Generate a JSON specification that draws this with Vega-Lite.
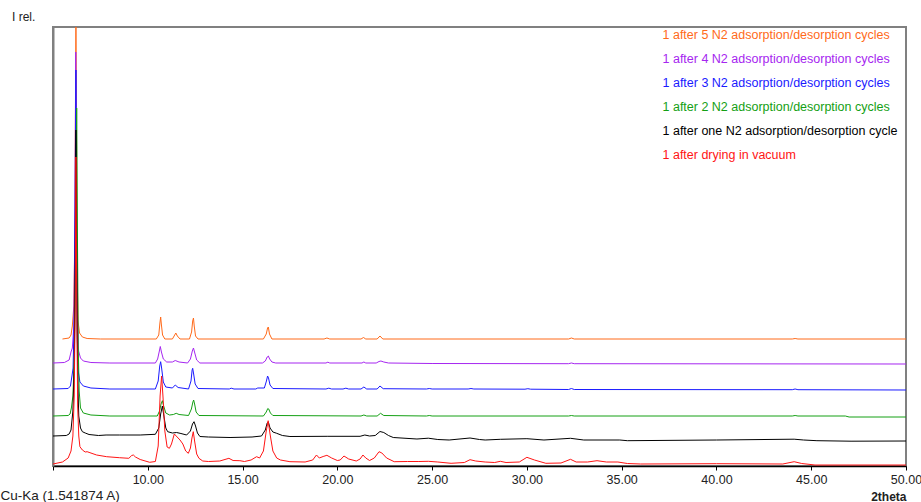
{
  "$schema": "https://vega.github.io/schema/vega-lite/v6.json",
  "autosize": {"type": "none"},
  "width": 853,
  "height": 439,
  "padding": {"left": 53, "top": 27, "right": 15, "bottom": 36},
  "background": "#ffffff",
  "config": {
    "font": "Liberation Sans",
    "view": {"stroke": "#808080", "strokeWidth": 2}
  },
  "title": {
    "text": "I rel.",
    "orient": "top",
    "anchor": "start",
    "frame": "group",
    "dx": -41,
    "offset": -6,
    "baseline": "alphabetic",
    "fontSize": 12,
    "fontWeight": "normal",
    "color": "#222222"
  },
  "datasets": {
    "samples": [
      {"sample": "c5", "name": "1 after 5 N2 adsorption/desorption cycles"},
      {"sample": "c4", "name": "1 after 4 N2 adsorption/desorption cycles"},
      {"sample": "c3", "name": "1 after 3 N2 adsorption/desorption cycles"},
      {"sample": "c2", "name": "1 after 2 N2 adsorption/desorption cycles"},
      {"sample": "c1", "name": "1 after one N2 adsorption/desorption cycle"},
      {"sample": "vac", "name": "1 after drying in vacuum"}
    ],
    "patterns": [
      {"sample":"c5","tt":5.5,"I":127},{"sample":"c5","tt":5.85,"I":128},{"sample":"c5","tt":5.95,"I":131},{"sample":"c5","tt":6.02,"I":140},{"sample":"c5","tt":6.1,"I":160},{"sample":"c5","tt":6.15,"I":230},{"sample":"c5","tt":6.19,"I":380},{"sample":"c5","tt":6.21,"I":439},{"sample":"c5","tt":6.23,"I":380},{"sample":"c5","tt":6.27,"I":200},{"sample":"c5","tt":6.32,"I":145},{"sample":"c5","tt":6.4,"I":133},{"sample":"c5","tt":6.55,"I":129},{"sample":"c5","tt":6.8,"I":127.5},{"sample":"c5","tt":7.5,"I":127},{"sample":"c5","tt":10.45,"I":127},{"sample":"c5","tt":10.58,"I":131},{"sample":"c5","tt":10.64,"I":143},{"sample":"c5","tt":10.68,"I":149},{"sample":"c5","tt":10.72,"I":141},{"sample":"c5","tt":10.78,"I":131},{"sample":"c5","tt":10.9,"I":127},{"sample":"c5","tt":11.3,"I":127},{"sample":"c5","tt":11.42,"I":131},{"sample":"c5","tt":11.48,"I":133},{"sample":"c5","tt":11.56,"I":130},{"sample":"c5","tt":11.7,"I":127},{"sample":"c5","tt":12.2,"I":127},{"sample":"c5","tt":12.31,"I":134},{"sample":"c5","tt":12.37,"I":145},{"sample":"c5","tt":12.41,"I":148},{"sample":"c5","tt":12.45,"I":140},{"sample":"c5","tt":12.52,"I":130},{"sample":"c5","tt":12.65,"I":127},{"sample":"c5","tt":16.1,"I":127},{"sample":"c5","tt":16.25,"I":132},{"sample":"c5","tt":16.32,"I":138},{"sample":"c5","tt":16.36,"I":139},{"sample":"c5","tt":16.42,"I":132},{"sample":"c5","tt":16.55,"I":127},{"sample":"c5","tt":19.3,"I":127},{"sample":"c5","tt":19.45,"I":128},{"sample":"c5","tt":19.6,"I":127},{"sample":"c5","tt":21.25,"I":127},{"sample":"c5","tt":21.38,"I":128.5},{"sample":"c5","tt":21.5,"I":127},{"sample":"c5","tt":22.1,"I":127},{"sample":"c5","tt":22.25,"I":130},{"sample":"c5","tt":22.4,"I":127},{"sample":"c5","tt":32.2,"I":127},{"sample":"c5","tt":32.35,"I":128},{"sample":"c5","tt":32.5,"I":127},{"sample":"c5","tt":44,"I":127},{"sample":"c5","tt":44.15,"I":127.5},{"sample":"c5","tt":44.3,"I":127},{"sample":"c5","tt":50,"I":127},

      {"sample":"c4","tt":5,"I":103},{"sample":"c4","tt":5.6,"I":103.5},{"sample":"c4","tt":5.85,"I":106},{"sample":"c4","tt":5.95,"I":114},{"sample":"c4","tt":6.02,"I":118},{"sample":"c4","tt":6.1,"I":140},{"sample":"c4","tt":6.16,"I":250},{"sample":"c4","tt":6.2,"I":414},{"sample":"c4","tt":6.24,"I":280},{"sample":"c4","tt":6.28,"I":160},{"sample":"c4","tt":6.35,"I":115},{"sample":"c4","tt":6.45,"I":108},{"sample":"c4","tt":6.6,"I":105},{"sample":"c4","tt":7,"I":103.5},{"sample":"c4","tt":8,"I":103},{"sample":"c4","tt":10.4,"I":103},{"sample":"c4","tt":10.52,"I":107},{"sample":"c4","tt":10.6,"I":114},{"sample":"c4","tt":10.66,"I":119.5},{"sample":"c4","tt":10.72,"I":114},{"sample":"c4","tt":10.82,"I":107},{"sample":"c4","tt":11,"I":104},{"sample":"c4","tt":11.3,"I":104},{"sample":"c4","tt":11.45,"I":105.5},{"sample":"c4","tt":11.65,"I":104},{"sample":"c4","tt":12.1,"I":103},{"sample":"c4","tt":12.25,"I":107},{"sample":"c4","tt":12.35,"I":115},{"sample":"c4","tt":12.41,"I":118},{"sample":"c4","tt":12.48,"I":113},{"sample":"c4","tt":12.58,"I":106},{"sample":"c4","tt":12.75,"I":103},{"sample":"c4","tt":16.05,"I":103},{"sample":"c4","tt":16.2,"I":105},{"sample":"c4","tt":16.3,"I":109},{"sample":"c4","tt":16.36,"I":110},{"sample":"c4","tt":16.43,"I":107},{"sample":"c4","tt":16.55,"I":104},{"sample":"c4","tt":16.75,"I":103},{"sample":"c4","tt":19.4,"I":103},{"sample":"c4","tt":19.5,"I":103.8},{"sample":"c4","tt":19.6,"I":103},{"sample":"c4","tt":21.3,"I":103},{"sample":"c4","tt":21.4,"I":104},{"sample":"c4","tt":21.5,"I":103},{"sample":"c4","tt":22.05,"I":103},{"sample":"c4","tt":22.2,"I":104.5},{"sample":"c4","tt":22.3,"I":105},{"sample":"c4","tt":22.45,"I":104},{"sample":"c4","tt":22.7,"I":103},{"sample":"c4","tt":25,"I":102.5},{"sample":"c4","tt":32.2,"I":102.3},{"sample":"c4","tt":32.35,"I":103},{"sample":"c4","tt":32.5,"I":102.3},{"sample":"c4","tt":50,"I":102},

      {"sample":"c3","tt":5,"I":77},{"sample":"c3","tt":5.8,"I":77.5},{"sample":"c3","tt":5.92,"I":80},{"sample":"c3","tt":6,"I":90},{"sample":"c3","tt":6.06,"I":98},{"sample":"c3","tt":6.13,"I":160},{"sample":"c3","tt":6.18,"I":300},{"sample":"c3","tt":6.21,"I":396},{"sample":"c3","tt":6.24,"I":260},{"sample":"c3","tt":6.28,"I":130},{"sample":"c3","tt":6.33,"I":95},{"sample":"c3","tt":6.42,"I":84},{"sample":"c3","tt":6.6,"I":80},{"sample":"c3","tt":7,"I":78},{"sample":"c3","tt":8,"I":77},{"sample":"c3","tt":10.4,"I":77},{"sample":"c3","tt":10.55,"I":85},{"sample":"c3","tt":10.63,"I":100},{"sample":"c3","tt":10.68,"I":104.3},{"sample":"c3","tt":10.73,"I":98},{"sample":"c3","tt":10.82,"I":84},{"sample":"c3","tt":10.95,"I":79},{"sample":"c3","tt":11.3,"I":78},{"sample":"c3","tt":11.45,"I":81},{"sample":"c3","tt":11.6,"I":78.5},{"sample":"c3","tt":12.15,"I":77},{"sample":"c3","tt":12.28,"I":85},{"sample":"c3","tt":12.34,"I":96},{"sample":"c3","tt":12.37,"I":97.7},{"sample":"c3","tt":12.42,"I":92},{"sample":"c3","tt":12.5,"I":82},{"sample":"c3","tt":12.65,"I":77.5},{"sample":"c3","tt":14.3,"I":77},{"sample":"c3","tt":14.4,"I":77.8},{"sample":"c3","tt":14.55,"I":77},{"sample":"c3","tt":15.7,"I":77},{"sample":"c3","tt":15.8,"I":78},{"sample":"c3","tt":16.15,"I":78},{"sample":"c3","tt":16.26,"I":85},{"sample":"c3","tt":16.32,"I":90},{"sample":"c3","tt":16.37,"I":88},{"sample":"c3","tt":16.45,"I":81},{"sample":"c3","tt":16.6,"I":77.5},{"sample":"c3","tt":19.4,"I":77},{"sample":"c3","tt":19.55,"I":77.8},{"sample":"c3","tt":19.7,"I":77},{"sample":"c3","tt":20.3,"I":77},{"sample":"c3","tt":20.45,"I":77.8},{"sample":"c3","tt":20.6,"I":77},{"sample":"c3","tt":21.25,"I":77},{"sample":"c3","tt":21.4,"I":79},{"sample":"c3","tt":21.55,"I":77},{"sample":"c3","tt":22.1,"I":77},{"sample":"c3","tt":22.25,"I":80},{"sample":"c3","tt":22.42,"I":77.3},{"sample":"c3","tt":24.7,"I":77},{"sample":"c3","tt":24.85,"I":77.5},{"sample":"c3","tt":25,"I":77},{"sample":"c3","tt":26.9,"I":77},{"sample":"c3","tt":27.05,"I":77.5},{"sample":"c3","tt":27.2,"I":77},{"sample":"c3","tt":29.9,"I":76.8},{"sample":"c3","tt":30.05,"I":77.3},{"sample":"c3","tt":30.2,"I":76.8},{"sample":"c3","tt":32.2,"I":76.5},{"sample":"c3","tt":32.35,"I":77.5},{"sample":"c3","tt":32.5,"I":76.5},{"sample":"c3","tt":44,"I":76.3},{"sample":"c3","tt":44.15,"I":77},{"sample":"c3","tt":44.3,"I":76.3},{"sample":"c3","tt":50,"I":76},

      {"sample":"c2","tt":5,"I":50},{"sample":"c2","tt":5.8,"I":50.5},{"sample":"c2","tt":5.9,"I":52},{"sample":"c2","tt":5.97,"I":58},{"sample":"c2","tt":6.05,"I":70},{"sample":"c2","tt":6.13,"I":110},{"sample":"c2","tt":6.2,"I":220},{"sample":"c2","tt":6.25,"I":358},{"sample":"c2","tt":6.29,"I":230},{"sample":"c2","tt":6.33,"I":120},{"sample":"c2","tt":6.38,"I":75},{"sample":"c2","tt":6.45,"I":58},{"sample":"c2","tt":6.6,"I":53},{"sample":"c2","tt":7,"I":51},{"sample":"c2","tt":8,"I":50},{"sample":"c2","tt":10.5,"I":50},{"sample":"c2","tt":10.62,"I":55},{"sample":"c2","tt":10.7,"I":62},{"sample":"c2","tt":10.77,"I":65.3},{"sample":"c2","tt":10.84,"I":60},{"sample":"c2","tt":10.95,"I":53},{"sample":"c2","tt":11.15,"I":51},{"sample":"c2","tt":11.35,"I":51.5},{"sample":"c2","tt":11.5,"I":52.7},{"sample":"c2","tt":11.65,"I":51.5},{"sample":"c2","tt":12.15,"I":50.5},{"sample":"c2","tt":12.3,"I":57},{"sample":"c2","tt":12.38,"I":64},{"sample":"c2","tt":12.42,"I":66},{"sample":"c2","tt":12.47,"I":62},{"sample":"c2","tt":12.55,"I":54},{"sample":"c2","tt":12.7,"I":50.5},{"sample":"c2","tt":16.1,"I":50},{"sample":"c2","tt":16.25,"I":54},{"sample":"c2","tt":16.33,"I":57.5},{"sample":"c2","tt":16.38,"I":57},{"sample":"c2","tt":16.47,"I":53},{"sample":"c2","tt":16.6,"I":50.5},{"sample":"c2","tt":21.25,"I":50},{"sample":"c2","tt":21.4,"I":51},{"sample":"c2","tt":21.55,"I":50},{"sample":"c2","tt":22.1,"I":50},{"sample":"c2","tt":22.28,"I":52.7},{"sample":"c2","tt":22.45,"I":50.5},{"sample":"c2","tt":24.7,"I":50},{"sample":"c2","tt":24.85,"I":50.5},{"sample":"c2","tt":25,"I":50},{"sample":"c2","tt":32.2,"I":50},{"sample":"c2","tt":32.35,"I":50.5},{"sample":"c2","tt":32.5,"I":50},{"sample":"c2","tt":44,"I":50},{"sample":"c2","tt":44.15,"I":50.5},{"sample":"c2","tt":44.3,"I":50},{"sample":"c2","tt":46.8,"I":50},{"sample":"c2","tt":47,"I":49},{"sample":"c2","tt":50,"I":49},

      {"sample":"c1","tt":5,"I":30},{"sample":"c1","tt":5.7,"I":30.5},{"sample":"c1","tt":5.85,"I":32},{"sample":"c1","tt":5.95,"I":36},{"sample":"c1","tt":6.05,"I":55},{"sample":"c1","tt":6.12,"I":100},{"sample":"c1","tt":6.17,"I":200},{"sample":"c1","tt":6.21,"I":336},{"sample":"c1","tt":6.25,"I":210},{"sample":"c1","tt":6.3,"I":90},{"sample":"c1","tt":6.36,"I":50},{"sample":"c1","tt":6.45,"I":38},{"sample":"c1","tt":6.55,"I":34.3},{"sample":"c1","tt":6.7,"I":33},{"sample":"c1","tt":6.9,"I":31.5},{"sample":"c1","tt":7.4,"I":30.5},{"sample":"c1","tt":7.8,"I":31},{"sample":"c1","tt":8.5,"I":31},{"sample":"c1","tt":9.6,"I":31},{"sample":"c1","tt":10.4,"I":31.7},{"sample":"c1","tt":10.58,"I":38},{"sample":"c1","tt":10.68,"I":52},{"sample":"c1","tt":10.77,"I":60},{"sample":"c1","tt":10.85,"I":50},{"sample":"c1","tt":10.95,"I":38},{"sample":"c1","tt":11.05,"I":34.3},{"sample":"c1","tt":11.3,"I":33},{"sample":"c1","tt":11.52,"I":33.5},{"sample":"c1","tt":11.75,"I":32.5},{"sample":"c1","tt":12.05,"I":31},{"sample":"c1","tt":12.25,"I":35},{"sample":"c1","tt":12.36,"I":42},{"sample":"c1","tt":12.44,"I":44.3},{"sample":"c1","tt":12.52,"I":40},{"sample":"c1","tt":12.62,"I":33},{"sample":"c1","tt":12.75,"I":29.5},{"sample":"c1","tt":13.2,"I":29},{"sample":"c1","tt":14.34,"I":28.5},{"sample":"c1","tt":15.5,"I":29},{"sample":"c1","tt":16,"I":30},{"sample":"c1","tt":16.2,"I":36},{"sample":"c1","tt":16.3,"I":43},{"sample":"c1","tt":16.36,"I":44},{"sample":"c1","tt":16.45,"I":38},{"sample":"c1","tt":16.6,"I":34},{"sample":"c1","tt":16.8,"I":32.7},{"sample":"c1","tt":17.1,"I":30.5},{"sample":"c1","tt":17.5,"I":29.5},{"sample":"c1","tt":19.5,"I":29.7},{"sample":"c1","tt":21.2,"I":29.7},{"sample":"c1","tt":21.45,"I":31},{"sample":"c1","tt":21.7,"I":30},{"sample":"c1","tt":22,"I":30.5},{"sample":"c1","tt":22.25,"I":34.5},{"sample":"c1","tt":22.45,"I":33.5},{"sample":"c1","tt":22.7,"I":30.5},{"sample":"c1","tt":22.95,"I":28.5},{"sample":"c1","tt":24.2,"I":27},{"sample":"c1","tt":24.8,"I":27.8},{"sample":"c1","tt":25.3,"I":26.5},{"sample":"c1","tt":25.9,"I":26},{"sample":"c1","tt":27,"I":28},{"sample":"c1","tt":27.5,"I":26.5},{"sample":"c1","tt":27.8,"I":26},{"sample":"c1","tt":28.6,"I":26.7},{"sample":"c1","tt":30,"I":27.3},{"sample":"c1","tt":30.9,"I":26},{"sample":"c1","tt":32.3,"I":27.7},{"sample":"c1","tt":33,"I":26},{"sample":"c1","tt":34.9,"I":26},{"sample":"c1","tt":35.3,"I":25.3},{"sample":"c1","tt":40,"I":26},{"sample":"c1","tt":44.1,"I":26.8},{"sample":"c1","tt":44.6,"I":26},{"sample":"c1","tt":45.3,"I":25.3},{"sample":"c1","tt":47.1,"I":24.8},{"sample":"c1","tt":50,"I":25},

      {"sample":"vac","tt":5,"I":2},{"sample":"vac","tt":5.5,"I":4},{"sample":"vac","tt":5.8,"I":8},{"sample":"vac","tt":5.95,"I":15},{"sample":"vac","tt":6.05,"I":30},{"sample":"vac","tt":6.12,"I":70},{"sample":"vac","tt":6.17,"I":160},{"sample":"vac","tt":6.21,"I":309},{"sample":"vac","tt":6.25,"I":170},{"sample":"vac","tt":6.3,"I":60},{"sample":"vac","tt":6.36,"I":30},{"sample":"vac","tt":6.42,"I":19.3},{"sample":"vac","tt":6.55,"I":16},{"sample":"vac","tt":6.7,"I":14},{"sample":"vac","tt":6.8,"I":14.3},{"sample":"vac","tt":6.95,"I":13.3},{"sample":"vac","tt":7.3,"I":11},{"sample":"vac","tt":7.83,"I":9.3},{"sample":"vac","tt":8.5,"I":8.3},{"sample":"vac","tt":9,"I":7.7},{"sample":"vac","tt":9.15,"I":10.5},{"sample":"vac","tt":9.24,"I":11},{"sample":"vac","tt":9.35,"I":9},{"sample":"vac","tt":9.6,"I":6.5},{"sample":"vac","tt":10.1,"I":3.7},{"sample":"vac","tt":10.4,"I":4.5},{"sample":"vac","tt":10.55,"I":20},{"sample":"vac","tt":10.65,"I":70},{"sample":"vac","tt":10.73,"I":90},{"sample":"vac","tt":10.8,"I":70},{"sample":"vac","tt":10.9,"I":35},{"sample":"vac","tt":11.02,"I":19},{"sample":"vac","tt":11.14,"I":17.7},{"sample":"vac","tt":11.25,"I":22},{"sample":"vac","tt":11.4,"I":32},{"sample":"vac","tt":11.5,"I":30},{"sample":"vac","tt":11.7,"I":26},{"sample":"vac","tt":11.85,"I":22},{"sample":"vac","tt":12,"I":15},{"sample":"vac","tt":12.14,"I":12.7},{"sample":"vac","tt":12.25,"I":18},{"sample":"vac","tt":12.33,"I":28},{"sample":"vac","tt":12.4,"I":34.3},{"sample":"vac","tt":12.47,"I":25},{"sample":"vac","tt":12.58,"I":12},{"sample":"vac","tt":12.7,"I":7.7},{"sample":"vac","tt":12.9,"I":5},{"sample":"vac","tt":13.2,"I":4.5},{"sample":"vac","tt":13.8,"I":5},{"sample":"vac","tt":14.28,"I":7.7},{"sample":"vac","tt":14.5,"I":5.5},{"sample":"vac","tt":14.86,"I":5.3},{"sample":"vac","tt":15.1,"I":4.5},{"sample":"vac","tt":15.45,"I":6},{"sample":"vac","tt":15.74,"I":9.3},{"sample":"vac","tt":15.9,"I":8},{"sample":"vac","tt":16.1,"I":15},{"sample":"vac","tt":16.25,"I":35},{"sample":"vac","tt":16.35,"I":45.3},{"sample":"vac","tt":16.45,"I":32},{"sample":"vac","tt":16.6,"I":15},{"sample":"vac","tt":16.8,"I":8},{"sample":"vac","tt":17,"I":6},{"sample":"vac","tt":17.5,"I":4.3},{"sample":"vac","tt":18.3,"I":4},{"sample":"vac","tt":18.7,"I":6},{"sample":"vac","tt":18.9,"I":11},{"sample":"vac","tt":19.05,"I":8},{"sample":"vac","tt":19.25,"I":9.5},{"sample":"vac","tt":19.45,"I":10.7},{"sample":"vac","tt":19.7,"I":8},{"sample":"vac","tt":20,"I":5.5},{"sample":"vac","tt":20.15,"I":6},{"sample":"vac","tt":20.35,"I":10},{"sample":"vac","tt":20.6,"I":7},{"sample":"vac","tt":21,"I":5},{"sample":"vac","tt":21.2,"I":7},{"sample":"vac","tt":21.35,"I":11},{"sample":"vac","tt":21.5,"I":8},{"sample":"vac","tt":21.7,"I":5.5},{"sample":"vac","tt":21.95,"I":8},{"sample":"vac","tt":22.2,"I":14.3},{"sample":"vac","tt":22.35,"I":13},{"sample":"vac","tt":22.6,"I":8},{"sample":"vac","tt":23,"I":4.3},{"sample":"vac","tt":23.7,"I":4.5},{"sample":"vac","tt":24.3,"I":4.5},{"sample":"vac","tt":24.8,"I":4.7},{"sample":"vac","tt":25.3,"I":4},{"sample":"vac","tt":26,"I":2.7},{"sample":"vac","tt":26.7,"I":3.5},{"sample":"vac","tt":27,"I":6.3},{"sample":"vac","tt":27.3,"I":5},{"sample":"vac","tt":27.8,"I":4},{"sample":"vac","tt":28.3,"I":3.5},{"sample":"vac","tt":28.6,"I":4.7},{"sample":"vac","tt":28.9,"I":3.5},{"sample":"vac","tt":29.6,"I":4},{"sample":"vac","tt":30,"I":8.7},{"sample":"vac","tt":30.4,"I":6},{"sample":"vac","tt":31,"I":2.7},{"sample":"vac","tt":31.8,"I":3},{"sample":"vac","tt":32.3,"I":6.7},{"sample":"vac","tt":32.6,"I":4},{"sample":"vac","tt":33.2,"I":4},{"sample":"vac","tt":33.7,"I":5.3},{"sample":"vac","tt":34.2,"I":4},{"sample":"vac","tt":34.8,"I":4},{"sample":"vac","tt":35.3,"I":2.5},{"sample":"vac","tt":36,"I":2},{"sample":"vac","tt":40,"I":2.3},{"sample":"vac","tt":43.5,"I":2},{"sample":"vac","tt":44.1,"I":4.3},{"sample":"vac","tt":44.5,"I":2.5},{"sample":"vac","tt":45.2,"I":1},{"sample":"vac","tt":50,"I":1}
    ]
  },
  "data": {"name": "patterns"},
  "transform": [
    {"lookup": "sample", "from": {"data": {"name": "samples"}, "key": "sample", "fields": ["name"]}}
  ],
  "mark": {"type": "line", "strokeWidth": 1, "clip": true, "interpolate": "linear"},
  "encoding": {
    "x": {
      "field": "tt",
      "type": "quantitative",
      "scale": {"domain": [5, 50], "nice": false, "zero": false},
      "axis": {
        "values": [5, 10, 15, 20, 25, 30, 35, 40, 45, 50],
        "format": ".2f",
        "labelExpr": "datum.value == 5 ? '' : datum.label",
        "grid": false,
        "tickSize": 4,
        "tickColor": "#000000",
        "labelFontSize": 12.5,
        "labelColor": "#222222",
        "labelPadding": 3,
        "labelFlush": false,
        "labelOverlap": false,
        "domainColor": "#000000",
        "domainWidth": 1.5,
        "title": "2theta",
        "titleFontSize": 12,
        "titleFontWeight": "bold",
        "titleColor": "#222222",
        "titleAnchor": "end",
        "titleAlign": "right",
        "titleBaseline": "middle",
        "titleX": 853,
        "titleY": 30
      }
    },
    "y": {
      "field": "I",
      "type": "quantitative",
      "scale": {"domain": [0, 439], "nice": false, "zero": true},
      "axis": {
        "labels": false,
        "ticks": false,
        "grid": false,
        "domainColor": "#808080",
        "domainWidth": 2,
        "title": "Cu-Ka (1.541874 A)",
        "titleAngle": 0,
        "titleAlign": "left",
        "titleBaseline": "middle",
        "titleX": -53,
        "titleY": 468,
        "titleFontSize": 13.5,
        "titleFontWeight": "normal",
        "titleColor": "#222222"
      }
    },
    "color": {
      "field": "name",
      "type": "nominal",
      "scale": {
        "domain": [
          "1 after 5 N2 adsorption/desorption cycles",
          "1 after 4 N2 adsorption/desorption cycles",
          "1 after 3 N2 adsorption/desorption cycles",
          "1 after 2 N2 adsorption/desorption cycles",
          "1 after one N2 adsorption/desorption cycle",
          "1 after drying in vacuum"
        ],
        "range": ["#ff6a1a", "#a626f0", "#1a1aff", "#14a014", "#000000", "#ff1414"]
      },
      "legend": {
        "orient": "none",
        "legendX": 597,
        "legendY": 2,
        "title": null,
        "symbolSize": 0,
        "symbolOpacity": 0,
        "symbolStrokeWidth": 0,
        "labelOffset": 0,
        "labelFontSize": 12.5,
        "labelLimit": 400,
        "rowPadding": 11,
        "labelColor": {"expr": "scale('color', datum.value)"}
      }
    }
  }
}
